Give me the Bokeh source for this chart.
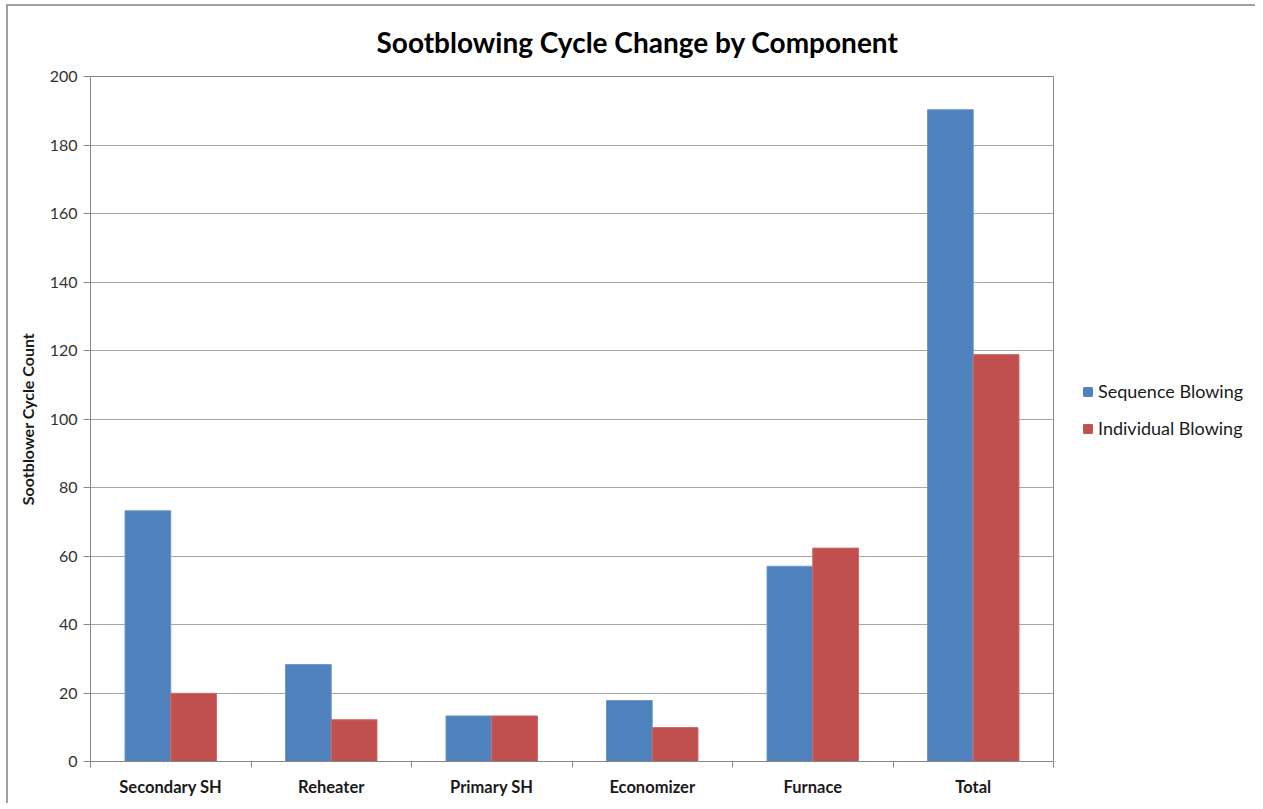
from bokeh.plotting import figure
from bokeh.layouts import row
from bokeh.models import (ColumnDataSource, FixedTicker, Legend, LegendItem, Title, Range1d)
from bokeh.embed import file_html
from bokeh.resources import INLINE

categories = ["Secondary SH", "Reheater", "Primary SH", "Economizer", "Furnace", "Total"]
sequence_blowing = [73.2, 28.3, 13.3, 17.8, 57.0, 190.3]
individual_blowing = [19.9, 12.2, 13.3, 9.9, 62.3, 118.8]
y_ticks = [0, 20, 40, 60, 80, 100, 120, 140, 160, 180, 200]
series_names = ["Sequence Blowing", "Individual Blowing"]

FONT = "Lato"
BAR_W = 0.285
BLUE = "#4F81BD"
RED = "#C0504D"
H = 797

centers = [i + 0.5 for i in range(len(categories))]
src = ColumnDataSource(dict(
    xs=[c - BAR_W / 2 for c in centers],
    xi=[c + BAR_W / 2 for c in centers],
    seq=sequence_blowing,
    ind=individual_blowing,
))

p = figure(width=1047, height=H, output_backend="svg", toolbar_location=None,
           x_range=Range1d(0, len(categories)), y_range=Range1d(0, 200),
           min_border_left=82, min_border_right=2, min_border_top=70, min_border_bottom=42)

p.vbar(x="xs", top="seq", width=BAR_W, source=src, fill_color=BLUE, line_color="#6f98cc", line_width=1)
p.vbar(x="xi", top="ind", width=BAR_W, source=src, fill_color=RED, line_color="#cc6b68", line_width=1)

# x axis: separator ticks at boundaries, labels at centers
xa = p.xaxis[0]
xa.ticker = FixedTicker(ticks=centers, minor_ticks=list(range(len(categories) + 1)))
xa.major_label_overrides = {c: cat for c, cat in zip(centers, categories)}
xa.major_tick_out = 0
xa.major_tick_in = 0
xa.minor_tick_out = 6
xa.minor_tick_in = 0
xa.minor_tick_line_color = "#868686"
xa.axis_line_color = "#868686"
xa.major_label_text_font = FONT
xa.major_label_text_font_style = "bold"
xa.major_label_text_font_size = "16.5px"
xa.major_label_text_color = "#1a1a1a"
xa.major_label_standoff = 9

ya = p.yaxis[0]
ya.ticker = FixedTicker(ticks=y_ticks)
ya.minor_tick_line_color = None
ya.major_tick_out = 7
ya.major_tick_in = 0
ya.major_tick_line_color = "#868686"
ya.axis_line_color = "#868686"
ya.major_label_text_font = FONT
ya.major_label_text_font_size = "16px"
ya.major_label_text_color = "#333333"
ya.major_label_standoff = 6
ya.axis_label = "Sootblower Cycle Count"
ya.axis_label_text_font = FONT
ya.axis_label_text_font_style = "bold"
ya.axis_label_text_font_size = "16px"
ya.axis_label_text_color = "#1a1a1a"
ya.axis_label_standoff = 10

p.xgrid.grid_line_color = None
p.ygrid.grid_line_color = "#a6a6a6"
p.ygrid.grid_line_width = 1
p.outline_line_color = "#868686"

title = Title(text="Sootblowing Cycle Change by Component", align="left", offset=286,
              vertical_align="middle", standoff=33,
              text_font=FONT, text_font_style="bold", text_font_size="28px",
              text_color="#000000")
p.add_layout(title, "above")

# legend panel (its swatch glyphs sit outside the visible range)
lp = figure(width=200, height=H, output_backend="svg", toolbar_location=None,
            x_range=Range1d(0, 1), y_range=Range1d(0, 1), min_border=0,
            min_border_left=0, min_border_right=0, min_border_top=0, min_border_bottom=0)
lp.axis.visible = False
lp.grid.visible = False
lp.outline_line_color = None
lr1 = lp.vbar(x=[-10], top=[-10], width=0.1, fill_color=BLUE, line_color=BLUE)
lr2 = lp.vbar(x=[-10], top=[-10], width=0.1, fill_color=RED, line_color=RED)
legend = Legend(items=[LegendItem(label=series_names[0], renderers=[lr1]),
                       LegendItem(label=series_names[1], renderers=[lr2])],
                location=(27, 322), padding=0, margin=0, spacing=15,
                glyph_width=11, glyph_height=11, label_height=20, label_standoff=5,
                label_text_font=FONT, label_text_font_size="18px", label_text_color="#1a1a1a",
                border_line_color=None, background_fill_alpha=0)
lp.add_layout(legend)

layout = row(p, lp, spacing=0)
layout.styles = {"margin-left": "6px", "margin-top": "4px",
                 "border-top": "2px solid #a0a0a0", "border-left": "2px solid #a0a0a0"}

open("out.html", "w").write(file_html(layout, INLINE))
